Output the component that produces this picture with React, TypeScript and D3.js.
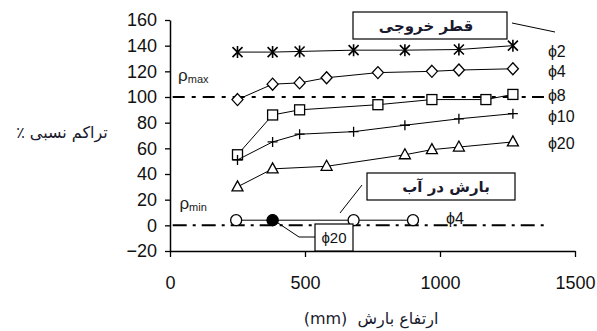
import React, { useEffect, useRef } from 'react'
import { select, scaleLinear, axisLeft, axisBottom, line } from 'd3'

const xTicks = [0, 500, 1000, 1500]
const yTicks = [-20, 0, 20, 40, 60, 80, 100, 120, 140, 160]

const phi2X = [250, 380, 480, 680, 870, 1070, 1270]
const phi2Y = [135, 135, 135.5, 136.5, 136.5, 137, 140]
const phi4X = [250, 380, 480, 580, 770, 970, 1070, 1270]
const phi4Y = [98, 110, 111, 115, 119, 120, 121, 122]
const phi8X = [250, 380, 480, 770, 970, 1170, 1270]
const phi8Y = [55, 86, 90, 94, 98, 98, 102]
const phi10X = [250, 380, 480, 680, 870, 1070, 1270]
const phi10Y = [51, 65, 71, 73, 78, 83, 87]
const phi20X = [250, 380, 580, 870, 970, 1070, 1270]
const phi20Y = [30, 44, 46, 55, 59, 61, 65]
const waterPhi4X = [245, 380, 680, 900]
const waterPhi4Y = [4, 4, 4, 4]
const waterPhi20X = [380]
const waterPhi20Y = [4]

const rhoMax = 100
const rhoMin = 0

const seriesLabels = ['ϕ2', 'ϕ4', 'ϕ8', 'ϕ10', 'ϕ20']

const W = 597
const H = 331
const persian = '"DejaVu Sans", sans-serif'
const latin = '"Liberation Sans", Arial, sans-serif'

const x = scaleLinear().domain([0, 1500]).range([170, 575])
const y = scaleLinear().domain([-20, 160]).range([251, 20])

const path = line<number>()

const Marker = ({ kind, cx, cy }: { kind: string; cx: number; cy: number }) => {
  const s = 5
  if (kind === 'star')
    return (
      <path
        d={`M${cx - s},${cy - s}L${cx + s},${cy + s}M${cx - s},${cy + s}L${cx + s},${cy - s}M${cx},${cy - s - 1}L${cx},${cy + s + 1}`}
        stroke="#000"
        strokeWidth={1.6}
      />
    )
  if (kind === 'diamond')
    return (
      <path
        d={`M${cx},${cy - 6}L${cx + 5.5},${cy}L${cx},${cy + 6}L${cx - 5.5},${cy}Z`}
        fill="#fff"
        stroke="#000"
        strokeWidth={1.3}
      />
    )
  if (kind === 'square')
    return <rect x={cx - 5} y={cy - 5} width={10} height={10} fill="#fff" stroke="#000" strokeWidth={1.3} />
  if (kind === 'plus')
    return (
      <path d={`M${cx - 5},${cy}L${cx + 5},${cy}M${cx},${cy - 5}L${cx},${cy + 5}`} stroke="#000" strokeWidth={1.3} />
    )
  if (kind === 'triangle')
    return (
      <path
        d={`M${cx},${cy - 6}L${cx + 5.5},${cy + 4}L${cx - 5.5},${cy + 4}Z`}
        fill="#fff"
        stroke="#000"
        strokeWidth={1.3}
      />
    )
  if (kind === 'dot') return <circle cx={cx} cy={cy} r={5.5} fill="#000" stroke="#000" />
  return <circle cx={cx} cy={cy} r={5.5} fill="#fff" stroke="#000" strokeWidth={1.3} />
}

const Series = ({ xs, ys, kind, noLine }: { xs: number[]; ys: number[]; kind: string; noLine?: boolean }) => {
  const pts = xs.map((v, i) => [x(v), y(ys[i])] as [number, number])
  return (
    <g>
      {!noLine && <path d={path(pts) || ''} fill="none" stroke="#000" strokeWidth={1} />}
      {pts.map((p, i) => (
        <Marker key={i} kind={kind} cx={p[0]} cy={p[1]} />
      ))}
    </g>
  )
}

export default function App() {
  const xRef = useRef<SVGGElement>(null)
  const yRef = useRef<SVGGElement>(null)

  useEffect(() => {
    const xa = axisBottom(x)
      .tickValues(xTicks)
      .tickFormat((d) => String(d))
      .tickSize(6)
      .tickPadding(19)
      .tickSizeOuter(0)
    const gx = select(xRef.current).call(xa as any)
    gx.select('.domain').attr('stroke-width', 1.5)
    gx.selectAll('.tick line').attr('stroke-width', 1.3)
    gx.selectAll('text').style('font', `18px ${latin}`).attr('fill', '#111')

    const ya = axisLeft(y).tickValues(yTicks).tickSize(5).tickPadding(8).tickSizeOuter(0)
    const gy = select(yRef.current).call(ya as any)
    gy.select('.domain').attr('stroke-width', 1.5)
    gy.selectAll('.tick line').attr('stroke-width', 1.3)
    gy.selectAll('text').style('font', `18px ${latin}`).attr('fill', '#111')
  }, [])

  const labelX = x(1270) + 35

  return (
    <svg width={W} height={H} style={{ position: 'absolute', left: 0, top: 0, background: '#fff' }}>
      {/* reference levels */}
      <line x1={x(10)} x2={x(1385)} y1={y(rhoMax)} y2={y(rhoMax)} stroke="#000" strokeWidth={2} strokeDasharray="12,7,4,7" />
      <line x1={x(10)} x2={x(1385)} y1={y(rhoMin)} y2={y(rhoMin)} stroke="#000" strokeWidth={2} strokeDasharray="14,6,3,6" />
      <text x={x(30)} y={y(rhoMax) - 16} style={{ font: `17px ${latin}` }} fill="#222">
        ρ<tspan fontSize={11} dy={2}>max</tspan>
      </text>
      <text x={x(35)} y={y(rhoMin) - 16} style={{ font: `17px ${latin}` }} fill="#222">
        ρ<tspan fontSize={11} dy={2}>min</tspan>
      </text>

      <g ref={xRef} transform={`translate(0,${y(-20)})`} />
      <g ref={yRef} transform={`translate(${x(0)},0)`} />

      <Series xs={phi2X} ys={phi2Y} kind="star" />
      <Series xs={phi4X} ys={phi4Y} kind="diamond" />
      <Series xs={phi8X} ys={phi8Y} kind="square" />
      <Series xs={phi10X} ys={phi10Y} kind="plus" />
      <Series xs={phi20X} ys={phi20Y} kind="triangle" />
      <Series xs={waterPhi4X} ys={waterPhi4Y} kind="circle" />
      <Series xs={waterPhi20X} ys={waterPhi20Y} kind="dot" noLine />

      {/* series labels */}
      {seriesLabels.map((t, i) => (
        <text
          key={t}
          x={labelX}
          y={[51, 71, 95, 116, 143][i]}
          dy="0.35em"
          style={{ font: `16px ${latin}` }}
          fill="#111"
        >
          {t}
        </text>
      ))}
      <line x1={532} x2={543} y1={y(rhoMax)} y2={y(rhoMax)} stroke="#000" strokeWidth={2} />
      <text x={x(1000) + 6} y={y(4) - 2} dy="0.35em" style={{ font: `16px ${latin}` }} fill="#111">
        ϕ4
      </text>

      {/* legend box: outlet diameter */}
      <rect x={353} y={12} width={154} height={27} fill="#fff" stroke="#000" strokeWidth={1.2} />
      <text x={426} y={26} dy="0.35em" textAnchor="middle" direction="rtl" style={{ font: `bold 15px ${persian}` }} fill="#1a1a2e">
        قطر خروجی
      </text>
      <line x1={512} y1={23} x2={555} y2={32} stroke="#000" strokeWidth={1} />

      {/* box: precipitation in water */}
      <rect x={367} y={173} width={148} height={27} fill="#fff" stroke="#000" strokeWidth={1.2} />
      <text x={446} y={187} dy="0.35em" textAnchor="middle" direction="rtl" style={{ font: `bold 15px ${persian}` }} fill="#1a1a2e">
        بارش در آب
      </text>
      <line x1={362} y1={185} x2={340} y2={213} stroke="#000" strokeWidth={1} />

      {/* phi20 callout */}
      <rect x={315} y={224} width={38} height={27} fill="#fff" stroke="#000" strokeWidth={1.2} />
      <text x={334} y={238} dy="0.35em" textAnchor="middle" style={{ font: `15px ${latin}` }} fill="#111">
        ϕ20
      </text>
      <polyline points="278,223 299,237 315,237" fill="none" stroke="#000" strokeWidth={1} />

      {/* axis titles */}
      <text x={62} y={132} dy="0.35em" textAnchor="middle" direction="rtl" style={{ font: `16px ${persian}` }} fill="#1a1a2e">
        تراکم نسبی ٪
      </text>
      <text x={371} y={318} dy="0.35em" textAnchor="middle" direction="rtl" style={{ font: `16px ${persian}` }} fill="#1a1a2e">
        ارتفاع بارش{'\u00a0\u00a0'}(mm)
      </text>
    </svg>
  )
}
